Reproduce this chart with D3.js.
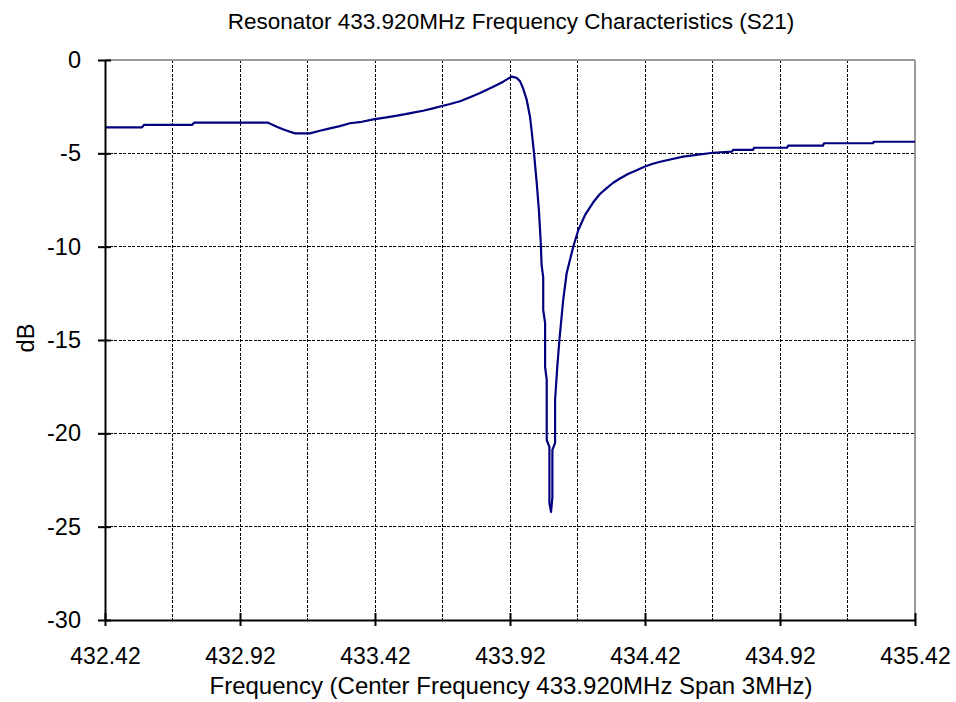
<!DOCTYPE html>
<html>
<head>
<meta charset="utf-8">
<script src="https://cdn.jsdelivr.net/npm/d3@7"></script>
<style>
  html, body { margin: 0; padding: 0; background: #fff; }
  svg { display: block; }
  text { font-family: "Liberation Sans", Arial, sans-serif; fill: #000; }
</style>
</head>
<body>
<svg id="chart" width="956" height="702"></svg>
<script>
// ---- data ----
const titleText = "Resonator 433.920MHz Frequency Characteristics (S21)";
const xTitleText = "Frequency (Center Frequency 433.920MHz Span 3MHz)";
const yTitleText = "dB";
const xTickValues = [432.42, 432.92, 433.42, 433.92, 434.42, 434.92, 435.42];
const xGridValues = [432.67, 433.17, 433.67, 434.17, 434.67, 435.17];
const yTickValues = [0, -5, -10, -15, -20, -25, -30];
const freqMHz = [
  432.420, 432.557, 432.564, 432.742, 432.750, 433.024, 433.056, 433.079, 433.105, 433.124,
  433.179, 433.216, 433.253, 433.290, 433.327, 433.371, 433.414, 433.463, 433.513, 433.561,
  433.598, 433.635, 433.661, 433.698, 433.735, 433.772, 433.809, 433.858, 433.895, 433.926,
  433.945, 433.957, 433.968, 433.982, 433.994, 434.001, 434.009, 434.019, 434.027, 434.034,
  434.037, 434.043, 434.043, 434.050, 434.050, 434.056, 434.056, 434.066, 434.066, 434.072,
  434.077, 434.077, 434.087, 434.087, 434.095, 434.103, 434.111, 434.117, 434.130, 434.142,
  434.154, 434.173, 434.198, 434.229, 434.253, 434.278, 434.301, 434.327, 434.357, 434.389,
  434.420, 434.446, 434.476, 434.561, 434.672, 434.742, 434.746, 434.820, 434.824, 434.946,
  434.950, 435.079, 435.083, 435.264, 435.268, 435.420
];
const s21dB = [
  -3.61, -3.61, -3.48, -3.48, -3.36, -3.36, -3.57, -3.71, -3.84, -3.93,
  -3.93, -3.79, -3.66, -3.54, -3.39, -3.31, -3.18, -3.07, -2.95, -2.82,
  -2.72, -2.59, -2.49, -2.36, -2.21, -1.99, -1.77, -1.43, -1.16, -0.89,
  -0.96, -1.13, -1.50, -2.14, -3.04, -3.91, -5.00, -6.59, -8.04, -9.80,
  -10.98, -11.63, -13.39, -14.09, -16.45, -17.14, -20.36, -20.73, -23.73, -24.21,
  -23.41, -20.89, -20.52, -18.21, -16.45, -15.00, -13.77, -12.86, -11.41, -10.71,
  -10.02, -9.11, -8.30, -7.61, -7.18, -6.86, -6.59, -6.35, -6.11, -5.91,
  -5.71, -5.57, -5.45, -5.18, -4.97, -4.91, -4.82, -4.82, -4.70, -4.70,
  -4.59, -4.59, -4.46, -4.46, -4.38, -4.38
];

// ---- layout ----
const svg = d3.select("#chart");
const plot = { left: 105, right: 915, top: 60, bottom: 620 };
const x = d3.scaleLinear().domain([432.42, 435.42]).range([plot.left, plot.right]);
const y = d3.scaleLinear().domain([-30, 0]).range([plot.bottom, plot.top]);

// gridlines
const grid = svg.append("g");
grid.selectAll("line.v").data(xTickValues.slice(1, -1).concat(xGridValues)).enter()
  .append("line").attr("class", "v")
  .attr("x1", d => x(d)).attr("x2", d => x(d))
  .attr("y1", plot.top).attr("y2", plot.bottom)
  .attr("stroke", "#000").attr("stroke-width", 1).attr("stroke-dasharray", "3,1.5")
  .attr("shape-rendering", "crispEdges");
grid.selectAll("line.h").data(yTickValues.slice(1, -1)).enter()
  .append("line").attr("class", "h")
  .attr("x1", plot.left).attr("x2", plot.right)
  .attr("y1", d => y(d)).attr("y2", d => y(d))
  .attr("stroke", "#000").attr("stroke-width", 1).attr("stroke-dasharray", "3,1.5")
  .attr("shape-rendering", "crispEdges");

// top and right border (gray)
svg.append("line").attr("x1", plot.left).attr("x2", plot.right).attr("y1", plot.top).attr("y2", plot.top)
  .attr("stroke", "#9a9a9a").attr("stroke-width", 2).attr("shape-rendering", "crispEdges");
svg.append("line").attr("x1", plot.right).attr("x2", plot.right).attr("y1", plot.top).attr("y2", plot.bottom)
  .attr("stroke", "#9a9a9a").attr("stroke-width", 2).attr("shape-rendering", "crispEdges");

// series
const pts = freqMHz.map((f, i) => [f, s21dB[i]]);
const line = d3.line().x(d => x(d[0])).y(d => y(d[1]));
svg.append("path").datum(pts).attr("d", line)
  .attr("fill", "none").attr("stroke", "#000080").attr("stroke-width", 2.2)
  .attr("stroke-linejoin", "round");

// axes
const xAxis = d3.axisBottom(x).tickValues(xTickValues).tickSizeInner(6).tickSizeOuter(0)
  .tickFormat(d3.format(".2f"));
const gx = svg.append("g").attr("transform", `translate(0,${plot.bottom})`).call(xAxis);
gx.select(".domain").attr("stroke", "#000").attr("stroke-width", 2);
gx.selectAll(".tick line").attr("y1", -7).attr("stroke-width", 2);
gx.selectAll(".tick text").attr("font-size", 23).attr("dy", null).attr("y", 44)
  .attr("font-family", "Liberation Sans, Arial, sans-serif");

const yAxis = d3.axisLeft(y).tickValues(yTickValues).tickSizeInner(7).tickSizeOuter(0)
  .tickFormat(d => String(d)).tickPadding(17);
const gy = svg.append("g").attr("transform", `translate(${plot.left},0)`).call(yAxis);
gy.select(".domain").attr("stroke", "#000").attr("stroke-width", 2);
gy.selectAll(".tick line").attr("x1", 6).attr("stroke-width", 2);
gy.selectAll(".tick text").attr("font-size", 23.5).attr("font-family", "Liberation Sans, Arial, sans-serif");

// titles
svg.append("text").attr("x", 511).attr("y", 29).attr("text-anchor", "middle")
  .attr("font-size", 22.5).text(titleText);
svg.append("text").attr("x", 511).attr("y", 694).attr("text-anchor", "middle")
  .attr("font-size", 24).text(xTitleText);
svg.append("text").attr("transform", "translate(34,338) rotate(-90)").attr("text-anchor", "middle")
  .attr("font-size", 23.5).text(yTitleText);
</script>
</body>
</html>
